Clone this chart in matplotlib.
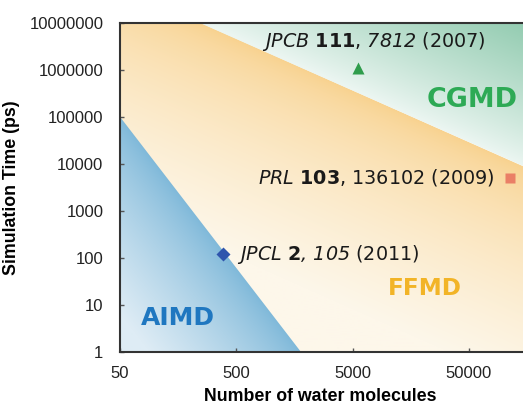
import numpy as np
import matplotlib
matplotlib.use("Agg")
import matplotlib.pyplot as plt
from matplotlib.patches import Polygon

# region boundaries (number of water molecules, simulation time in ps)
aimd_x = [50, 1800]
aimd_y = [1e5, 1]
cgmd_x = [245, 2e5]
cgmd_y = [1e7, 6300]

# literature points
ref_x = [384, 5600, 112000]
ref_y = [120, 1.1e6, 5000]
# \mathsf is mapped to italic below so digits come out slanted too
ref_labels = [r"$\mathsf{JPCL}$ $\mathbf{2}$$\mathsf{,}$ $\mathsf{105}$ (2011)",
              r"$\mathsf{JPCB}$ $\mathbf{111}$, $\mathsf{7812}$ (2007)",
              r"$\mathsf{PRL}$ $\mathbf{103}$, 136102 (2009)"]
ref_markers = ["D", "^", "s"]
ref_colors = ["#2f55ad", "#2f9d4c", "#ea7f66"]

region_names = ["AIMD", "FFMD", "CGMD"]
region_x = [158, 21000, 53200]
region_y = [5.2, 22.6, 2.26e5]
region_colors = ["#1f77c0", "#f2b427", "#2daa55"]
region_sizes = [18, 16.7, 19.4]

xticks = [50, 500, 5000, 50000]
yticks = [1, 10, 100, 1000, 10000, 100000, 1000000, 10000000]

xmin, xmax = 50, 2e5
ymin, ymax = 1, 1e7

plt.rcParams["mathtext.fontset"] = "custom"
plt.rcParams["mathtext.rm"] = "DejaVu Sans"
plt.rcParams["mathtext.it"] = "DejaVu Sans:italic"
plt.rcParams["mathtext.sf"] = "DejaVu Sans:italic"
plt.rcParams["mathtext.bf"] = "DejaVu Sans:bold"

fig = plt.figure(figsize=(5.23, 4.08), dpi=100)
ax = fig.add_axes([0.2294, 0.1373, 0.801, 0.807])
ax.set_xscale("log")
ax.set_yscale("log")
ax.set_xlim(xmin, xmax)
ax.set_ylim(ymin, ymax)
ax.set_autoscale_on(False)

pos = ax.get_position()
W = pos.width * fig.get_figwidth() * fig.dpi
H = pos.height * fig.get_figheight() * fig.dpi
nx, ny = int(W), int(H)
gx, gy = np.meshgrid((np.arange(nx) + 0.5), (np.arange(ny) + 0.5))

to_axes = ax.transData + ax.transAxes.inverted()


def dist_to(xs, ys):
    # perpendicular distance (pixels) of every grid cell to a boundary line
    p = to_axes.transform(np.column_stack([xs, ys])) * [W, H]
    d = p[1] - p[0]
    n = np.array([-d[1], d[0]]) / np.hypot(*d)
    return np.abs((gx - p[0, 0]) * n[0] + (gy - p[0, 1]) * n[1])


def gradient(dist, near, far, reach, gamma=1.0):
    t = np.clip(dist / reach, 0, 1) ** gamma
    near = np.array(near) / 255.0
    far = np.array(far) / 255.0
    return near[None, None, :] * (1 - t[..., None]) + far[None, None, :] * t[..., None]


d_cg = dist_to(cgmd_x, cgmd_y)
d_ai = dist_to(aimd_x, aimd_y)

shades = [
    (gradient(d_cg, (248, 208, 138), (253, 247, 234), 200, 0.6),
     [(xmin, ymin), (xmin, ymax), (cgmd_x[0], ymax), (cgmd_x[1], cgmd_y[1]), (xmax, ymin)]),
    (gradient(d_ai, (126, 184, 217), (222, 236, 245), 120, 0.8),
     [(xmin, ymin), (aimd_x[0], aimd_y[0]), (aimd_x[1], aimd_y[1])]),
    (gradient(d_cg, (236, 246, 242), (135, 198, 168), 150, 0.9),
     [(cgmd_x[0], cgmd_y[0]), (xmax, ymax), (cgmd_x[1], cgmd_y[1])]),
]
for img, verts in shades:
    im = ax.imshow(img, extent=(0, 1, 0, 1), transform=ax.transAxes, origin="lower",
                   aspect="auto", interpolation="bilinear", zorder=0)
    im.set_clip_path(Polygon(verts, closed=True, transform=ax.transData))

ax.set_xlim(xmin, xmax)
ax.set_ylim(ymin, ymax)

for x, y, m, c in zip(ref_x, ref_y, ref_markers, ref_colors):
    ax.plot(x, y, marker=m, color=c, ms=7 if m != "^" else 8, mec="none", zorder=3)

# labels next to markers
ax.text(507, ref_y[0], ref_labels[0], ha="left", va="center", fontsize=13.8,
        family="DejaVu Sans", color="#1a1a1a", zorder=4)
ax.text(7640, 3.9e6, ref_labels[1], ha="center", va="center", fontsize=13.8,
        family="DejaVu Sans", color="#1a1a1a", zorder=4)
ax.text(83800, ref_y[2], ref_labels[2], ha="right", va="center", fontsize=13.8,
        family="DejaVu Sans", color="#1a1a1a", zorder=4)

for name, x, y, c, s in zip(region_names, region_x, region_y, region_colors, region_sizes):
    ax.text(x, y, name, ha="center", va="center", fontsize=s, fontweight="bold",
            color=c, family="DejaVu Sans", zorder=4)

ax.set_xticks(xticks)
ax.set_xticklabels([str(v) for v in xticks])
ax.set_yticks(yticks)
ax.set_yticklabels([str(v) for v in yticks])
ax.minorticks_off()
ax.tick_params(direction="in", length=3, width=1, color="#555555", labelsize=12, pad=10)
ax.tick_params(axis="y", pad=12)
for lab in ax.get_xticklabels() + ax.get_yticklabels():
    lab.set_family("Liberation Sans")
    lab.set_color("#222222")

for s in ["left", "bottom", "top"]:
    ax.spines[s].set_linewidth(1.5)
    ax.spines[s].set_color("#333333")
ax.spines["right"].set_visible(False)

ax.set_xlabel("Number of water molecules", fontsize=12.8, fontweight="bold",
              family="Liberation Sans")
ax.set_ylabel("Simulation Time (ps)", fontsize=12.8, fontweight="bold",
              family="Liberation Sans")
ax.xaxis.set_label_coords((320 - 120) / W, -0.11)
ax.yaxis.set_label_coords((20 - 120) / W, 0.5)

fig.savefig("out.png", dpi=100)
